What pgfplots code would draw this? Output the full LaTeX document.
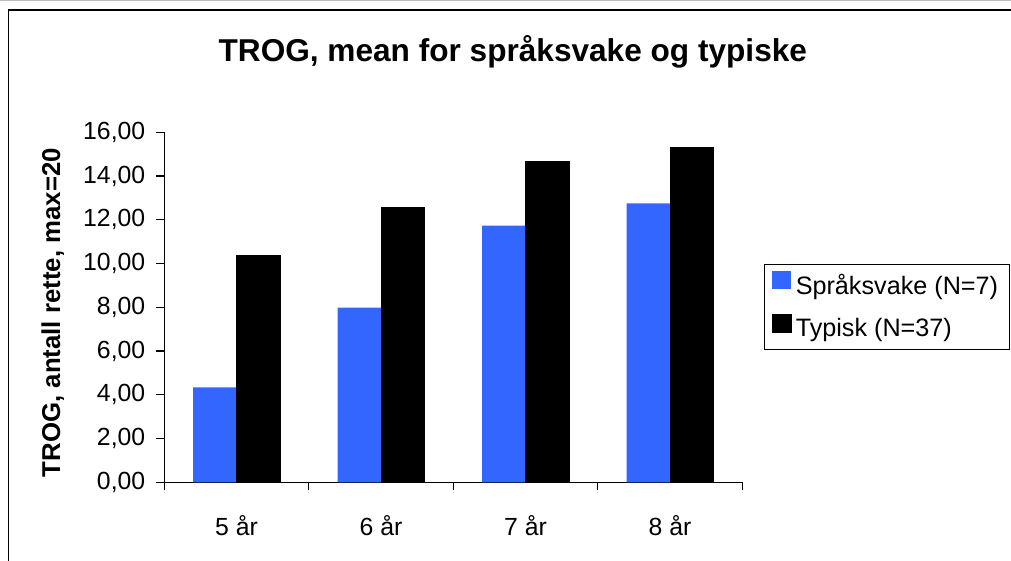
\documentclass[border=0pt]{standalone}
\usepackage{fontspec}
\setmainfont{Liberation Sans}
\usepackage{pgfplots}
\pgfplotsset{compat=1.18}
\definecolor{barBlue}{RGB}{51,102,255}

\begin{document}
\begin{tikzpicture}
\useasboundingbox (0,0) rectangle (505.5pt,280.5pt);
% chart frame
\draw[gray!50, line width=0.5pt] (0,280.2pt) -- (505.5pt,280.2pt);
\draw[black, line width=0.8pt] (4.15pt,0) -- (4.15pt,275.5pt) -- (505.5pt,275.5pt);
\begin{axis}[
    at={(82.15pt,39.35pt)}, anchor=south west,
    scale only axis, width=289pt, height=175pt,
    ybar=0pt, bar width=0.3,
    xmin=-0.5, xmax=3.5, ymin=0, ymax=16,
    axis x line*=bottom, axis y line*=left,
    axis line style={line width=0.6pt},
    tick align=outside, major tick length=4pt, minor tick length=4pt,
    tick style={black, line width=0.6pt},
    xtick={0,1,2,3},
    xticklabels={5 år, 6 år, 7 år, 8 år},
    major x tick style={draw=none},
    minor xtick={-0.5,0.5,1.5,2.5,3.5},
    ytick={0,2,4,6,8,10,12,14,16},
    /pgf/number format/assume math mode=true,
    yticklabel style={xshift=-2pt, /pgf/number format/.cd, fixed, fixed zerofill, precision=2, use comma},
    ticklabel style={font=\fontsize{12.4}{14}\selectfont},
    xticklabel style={anchor=base, yshift=-22.5pt},
    every axis title shift=0pt,
    title={TROG, mean for språksvake og typiske},
    title style={font=\fontsize{15.8}{18}\selectfont\bfseries, at={(axis description cs:0.603,1.2009)}, anchor=base},
    ylabel={TROG, antall rette, max=20},
    ylabel style={font=\fontsize{12.9}{15}\selectfont\bfseries, at={(axis description cs:-0.193,0.485)}, anchor=center},
    legend style={at={(rel axis cs:1.038,0.6237)}, anchor=north west,
        draw=black, line width=0.5pt, font=\fontsize{12.6}{14}\selectfont,
        inner xsep=3.5pt, inner ysep=3pt, row sep=6pt},
    legend cell align=left,
    legend image code/.code={\fill[#1] (0pt,-1.5pt) rectangle (9.5pt,7.5pt);},
]
\addplot[fill=barBlue, draw=none] coordinates {(0,4.34) (1,7.98) (2,11.73) (3,12.75)};
\addlegendentry{Språksvake (N=7)}
\addplot[fill=black, draw=black] coordinates {(0,10.35) (1,12.56) (2,14.66) (3,15.30)};
\addlegendentry{Typisk (N=37)}
\end{axis}
\end{tikzpicture}
\end{document}
